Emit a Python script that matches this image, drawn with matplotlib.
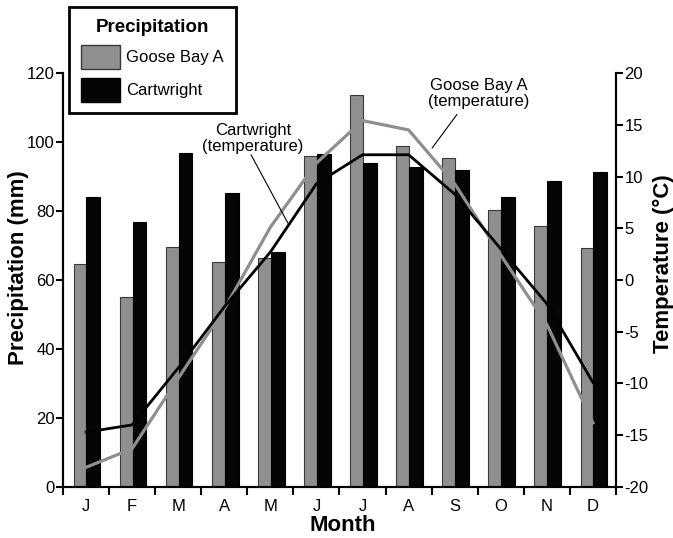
import numpy as np
import matplotlib.pyplot as plt
from matplotlib.patches import Patch

plt.rcParams['font.family'] = ['Liberation Sans', 'DejaVu Sans']
plt.rcParams['axes.unicode_minus'] = False

months = ["J", "F", "M", "A", "M", "J", "J", "A", "S", "O", "N", "D"]
precip_goose = [64.6, 55.2, 69.7, 65.3, 66.3, 95.8, 113.5, 98.7, 95.5, 80.3, 75.7, 69.2]
precip_cart = [84.1, 76.7, 96.9, 85.3, 68.2, 96.6, 94.0, 92.7, 92.0, 84.2, 88.7, 91.3]
temp_goose = [-18.1, -16.3, -9.5, -2.8, 5.1, 11.3, 15.4, 14.5, 9.3, 2.4, -4.3, -13.8]
temp_cart = [-14.7, -14.0, -8.5, -2.6, 2.7, 9.3, 12.1, 12.1, 8.3, 3.0, -2.3, -9.9]

gray = "#8f8f8f"
x = np.arange(12)

fig = plt.figure(figsize=(6.73, 5.38), dpi=100)
ax = fig.add_axes([0.0936, 0.0948, 0.8217, 0.7695])
ax2 = ax.twinx()

ax.bar(x + 0.23, precip_goose, width=0.28, align="edge", color=gray,
       edgecolor="#3a3a3a", linewidth=0.8)
ax.bar(x + 0.51, precip_cart, width=0.30, align="edge", color="#050505",
       edgecolor="#000000", linewidth=0.8)

ax2.plot(x + 0.5, temp_goose, color=gray, lw=2.3, solid_joinstyle="miter")
ax2.plot(x + 0.5, temp_cart, color="black", lw=2.0, solid_joinstyle="miter")

ax.set_xlim(0, 12)
ax.set_ylim(0, 120)
ax2.set_ylim(-20, 20)
ax.set_yticks(range(0, 121, 20))
ax2.set_yticks(range(-20, 21, 5))

ax.set_xticks(np.arange(0, 13))
ax.set_xticklabels([])
ax.set_xticks(x + 0.5, minor=True)
ax.set_xticklabels(months, minor=True)
ax.tick_params(axis="x", which="minor", length=0, pad=9, labelsize=12)
ax.tick_params(axis="x", which="major", length=6, width=1.5, direction="out")
ax.tick_params(axis="y", length=5, width=1.5, labelsize=12, pad=1)
ax2.tick_params(axis="y", length=5, width=1.5, labelsize=12, pad=1)

for a in (ax, ax2):
    a.spines["top"].set_visible(False)
    for s in ("left", "right", "bottom"):
        a.spines[s].set_linewidth(1.5)

ax.set_xlabel("Month", fontsize=16, fontweight="bold")
ax.set_ylabel("Precipitation (mm)", fontsize=16, fontweight="bold")
ax2.set_ylabel("Temperature (°C)", fontsize=16, fontweight="bold", rotation=90)
ax.xaxis.set_label_coords(0.505, -0.068)
ax.yaxis.set_label_coords(-0.062, 0.53)
ax2.yaxis.set_label_coords(1.066, 0.54)

# annotations for the temperature lines
ax2.text(4.12, 13.7, "Cartwright\n(temperature)", ha="center", va="center",
         fontsize=12, linespacing=1.1)
ax2.annotate("", xy=(4.88, 5.5), xytext=(4.08, 12.1),
             arrowprops=dict(arrowstyle="-", color="black", lw=0.8,
                             shrinkA=0, shrinkB=0))
ax2.text(9.03, 18.0, "Goose Bay A\n(temperature)", ha="center", va="center",
         fontsize=12, linespacing=1.05)
ax2.annotate("", xy=(8.01, 12.75), xytext=(8.55, 16.0),
             arrowprops=dict(arrowstyle="-", color="black", lw=0.8,
                             shrinkA=0, shrinkB=0))

handles = [Patch(facecolor=gray, edgecolor="#3a3a3a", label="Goose Bay A"),
           Patch(facecolor="#050505", edgecolor="black", label="Cartwright")]
leg = fig.legend(handles=handles, title="Precipitation", loc="upper left",
                 bbox_to_anchor=(0.1025, 0.987), bbox_transform=fig.transFigure,
                 borderaxespad=0, fontsize=12, fancybox=False, framealpha=1,
                 edgecolor="black", handlelength=2.35, handleheight=1.83,
                 borderpad=0.7, labelspacing=0.55, handletextpad=0.4)
leg.get_title().set_fontweight("bold")
leg.get_title().set_fontsize(13.5)
leg.get_frame().set_linewidth(2)

fig.savefig("out.png", dpi=100)
